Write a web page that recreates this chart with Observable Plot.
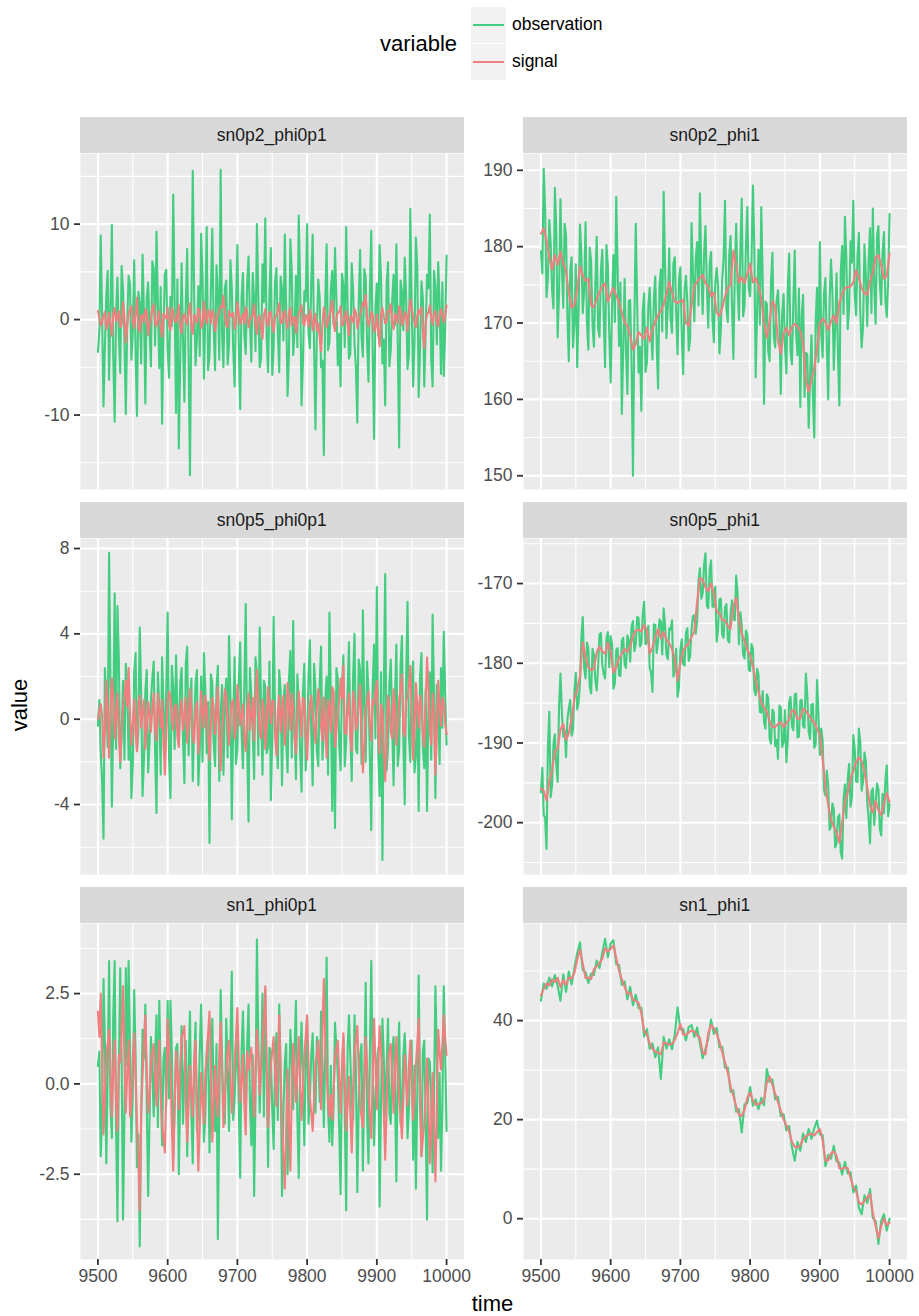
<!DOCTYPE html>
<html><head><meta charset="utf-8">
<script src="https://cdn.jsdelivr.net/npm/d3@7"></script>
<script src="https://cdn.jsdelivr.net/npm/@observablehq/plot@0.6"></script>
<style>
body{margin:0;background:#fff;}
#root{position:relative;width:919px;height:1316px;font-family:"Liberation Sans",Arial,Helvetica,sans-serif;overflow:hidden;background:#fff;}
.abs{position:absolute;}
.strip{position:absolute;background:#D9D9D9;color:#1A1A1A;font-size:17.5px;display:flex;align-items:center;justify-content:center;}
.panel svg{overflow:visible;}
</style></head><body><div id="root"></div>
<script>
// ---------- data ----------
// main samples at t = 9500, 9504, ..., 10000; "_mid" samples at t = 9502, 9506, ..., 9998
const time4 = d3.range(9500, 10001, 4);
const time2 = d3.range(9500, 10001, 2);
const panelNames = ["sn0p2_phi0p1","sn0p2_phi1","sn0p5_phi0p1","sn0p5_phi1","sn1_phi0p1","sn1_phi1"];
const seriesNames = ["observation","signal"];
const seriesColors = ["#43CD80","#F08080"];

const obs_sn0p2_phi0p1 = [-3.4,8.8,-9.1,2.5,-6.3,9.9,-10.7,4.4,-5.6,3.1,
-9.9,4.6,-4.2,6.2,-10.1,1.8,6.8,-8.8,3.9,-4.9,
5.3,9.2,-5.1,-10.9,4.8,-3.2,2.4,13.1,-9.8,-13.5,
5.9,-8.6,7.4,-16.3,15.6,-4.8,3.5,9.0,-6.2,9.7,
-3.8,9.5,-5.3,2.8,15.7,-5.0,4.1,-2.7,3.3,-7.0,
7.8,-9.4,4.9,-3.6,6.6,-4.4,2.1,10.0,-5.0,5.8,
10.6,-5.5,7.5,-2.9,5.4,-5.5,3.2,8.9,-8.0,8.4,
-3.7,4.6,10.9,-9.0,3.0,10.0,-3.0,8.9,-11.5,4.2,
-5.0,-14.2,7.9,-2.4,5.1,7.5,-4.8,-7.0,3.6,9.7,
-4.1,5.9,-2.6,-10.8,7.3,-3.9,4.4,-6.5,9.3,-12.5,
3.8,7.8,-4.6,-9.0,6.0,-3.1,4.7,7.9,-13.4,2.9,
6.5,-5.2,11.6,-7.0,8.6,-8.1,4.0,-7.0,4.7,11.0,
-7.0,3.4,6.0,-5.7,-5.9,6.7];
const obs_sn0p2_phi0p1_mid = [-1.2,0.4,-2.8,5.1,1.3,-3.9,0.7,-1.8,5.6,-2.2,
-0.5,3.7,-1.4,-3.3,2.9,-4.6,0.8,2.2,-1.1,6.1,
-2.7,1.5,3.4,-0.9,5.2,-6.1,-0.7,2.1,4.2,-4.4,
-2.3,1.9,-3.5,1.2,2.6,-1.9,-3.8,4.4,0.6,-5.3,
3.1,-0.8,5.7,-4.2,-1.6,3.3,-4.7,6.2,-3.1,1.4,
-2.6,2.3,-1.7,3.8,-0.3,4.9,-3.3,2.6,-4.1,1.8,
-1.9,2.7,-5.8,3.9,-1.4,4.5,-2.2,1.1,-3.5,5.0,
-1.3,-2.9,3.6,-4.5,1.9,-1.6,4.0,-2.8,-0.9,2.3,
-4.3,1.7,-3.2,3.1,-0.4,2.2,-1.5,4.8,-2.9,1.6,
-3.6,3.0,-5.1,1.4,-1.8,5.3,-2.4,2.9,-3.4,1.2,
-1.7,4.4,-2.1,3.5,-4.9,1.9,-0.6,-2.5,4.1,-1.1,
2.4,-3.7,1.5,-2.3,5.5,-3.0,2.2,-1.4,3.3,-4.2,
5.1,-2.6,1.8,3.9,-1.0];
const sig_sn0p2_phi0p1 = [0.9,-0.6,0.4,-1.0,0.7,-1.7,1.2,0.3,-0.8,1.8,
-2.4,0.6,1.4,-0.9,2.3,-1.3,0.5,1.1,-1.6,0.2,
1.6,-0.7,0.9,-1.8,0.4,1.3,-1.1,0.8,-0.3,1.5,
-1.4,0.6,-0.5,1.7,-1.5,0.2,1.2,-0.9,1.9,-0.4,
0.7,1.0,-1.2,0.5,1.4,2.5,-0.6,0.9,0.3,-1.0,
1.8,-0.5,0.6,1.3,-0.8,0.2,1.6,-1.5,0.4,-2.0,
1.1,-0.7,0.8,-1.3,0.5,1.7,-0.3,0.9,-0.9,1.2,
0.1,-1.4,0.7,1.5,-0.6,0.3,1.0,-1.1,0.6,-0.4,
-3.3,1.3,-0.8,0.4,2.0,-1.2,0.7,1.4,-0.5,0.9,
-1.6,0.2,1.1,-0.9,0.6,1.8,2.6,-0.7,0.8,-1.3,
0.5,-2.8,1.2,-0.4,0.9,1.6,-1.0,0.3,1.4,-0.6,
0.8,-1.2,2.1,0.4,-0.8,1.0,1.3,-3.0,0.6,1.5,
-0.5,0.9,-0.7,1.1,-0.3,1.5];
const sig_sn0p2_phi0p1_mid = [0.2,-0.3,0.8,-0.4,-0.5,0.6,-0.2,0.9,-0.6,0.3,
-0.7,1.0,-0.2,0.5,-0.8,0.4,-0.3,0.7,-0.5,1.1,
-0.4,0.2,-0.9,0.6,0.1,-0.6,1.2,-0.2,0.4,-0.8,
0.3,-0.1,0.9,-0.7,0.5,-0.3,0.8,-0.5,0.2,1.0,
-0.4,0.6,-0.2,0.9,1.3,0.4,-0.8,0.5,0.7,-0.3,
0.6,0.1,-0.4,0.8,-0.1,0.5,-0.6,0.3,-0.9,0.4,
-0.2,0.7,-0.5,0.2,0.9,-0.4,0.6,-0.2,0.8,-0.6,
0.3,-0.1,0.9,-0.3,0.5,-0.7,0.4,-0.2,-1.2,-1.8,
-0.6,0.5,-0.2,1.1,-0.4,0.2,0.8,-0.6,0.3,-0.5,
0.4,-0.3,0.7,-0.2,1.0,1.4,0.2,-0.1,0.5,-0.9,
-1.3,0.6,0.3,-0.2,0.8,-0.3,0.6,-0.4,0.9,-0.2,
0.5,0.9,1.1,-0.3,0.4,0.6,-1.2,-0.6,0.7,0.2,
0.5,-0.1,0.4,0.6,0.3];

const obs_sn0p2_phi1 = [179.4,190.2,173.4,183.5,174.2,187.7,168.1,186.2,172.0,181.5,
165.0,178.6,169.8,164.2,182.9,171.3,183.2,166.5,178.0,166.9,
181.3,168.2,179.6,164.2,177.4,162.2,178.9,186.5,167.0,158.1,
175.8,160.7,173.0,150.0,183.0,163.5,158.5,173.9,164.8,174.6,
165.2,176.1,161.4,177.0,187.2,168.0,179.8,168.7,178.6,165.9,
177.3,163.3,176.2,166.4,183.1,170.2,180.6,187.0,171.2,182.7,
169.4,179.3,167.5,177.2,166.0,175.8,186.0,170.1,181.4,165.3,
183.0,170.4,186.3,172.3,185.2,173.5,188.0,162.9,179.6,185.2,
159.4,172.5,165.0,179.2,166.8,174.3,160.7,173.8,163.4,179.1,
164.6,179.5,165.8,159.0,173.7,166.1,156.3,168.4,155.0,174.6,
180.6,165.5,175.9,160.0,178.3,163.9,176.5,159.2,180.1,183.9,
169.2,180.7,186.0,171.0,181.8,166.8,180.3,169.6,182.4,185.0,
169.9,182.7,172.4,181.9,170.8,184.3];
const obs_sn0p2_phi1_mid = [176.5,184.8,175.9,180.4,171.9,182.3,174.1,177.6,183.0,170.8,
176.9,166.8,177.7,171.5,179.1,174.2,170.0,179.9,169.7,175.1,
169.2,176.8,170.9,180.2,168.6,172.5,170.1,177.1,175.3,166.4,
166.2,172.9,164.7,170.2,172.6,166.9,171.5,163.6,172.2,169.0,
173.4,167.3,174.8,168.9,177.5,172.1,170.5,177.8,171.1,175.8,
168.4,174.3,172.7,167.9,176.6,178.4,172.3,176.9,179.2,174.6,
177.8,170.3,175.1,174.9,169.1,178.5,171.9,178.8,172.4,176.3,
174.7,179.6,170.9,180.1,174.6,178.4,180.0,171.6,169.8,176.0,
172.8,166.3,175.4,168.1,172.9,170.2,171.3,167.0,174.4,166.2,
172.7,168.6,174.5,171.0,160.3,165.9,163.1,160.5,170.2,164.9,
168.5,173.9,167.0,172.8,174.1,169.2,165.8,176.7,171.2,178.5,
172.0,177.9,173.8,178.7,171.4,169.7,176.2,178.2,171.3,174.8,
181.5,175.2,179.3,173.1,175.6];
const sig_sn0p2_phi1 = [181.7,182.4,180.8,178.6,177.0,178.9,177.6,179.3,177.8,176.8,
174.0,172.0,172.4,174.4,177.4,176.2,175.5,175.8,172.3,172.1,
173.2,174.0,174.8,175.2,172.8,173.8,174.6,173.6,172.7,171.4,
170.1,169.6,168.4,166.5,167.3,168.8,168.4,167.9,169.4,167.6,
169.2,170.2,171.0,171.6,172.4,173.8,175.4,174.0,172.8,172.6,
172.9,173.0,170.0,169.6,172.3,174.8,175.4,175.9,176.3,175.2,
174.8,173.5,174.0,171.4,170.9,172.0,173.5,174.6,175.0,179.5,
177.6,175.3,176.0,175.2,176.4,177.8,175.3,175.9,174.9,173.2,
170.0,168.1,170.3,172.9,172.2,167.7,166.0,168.6,169.4,168.4,
169.5,169.9,169.6,168.9,167.3,162.5,161.0,162.6,164.0,166.8,
169.9,170.6,170.1,169.1,170.2,171.0,169.9,172.7,173.8,174.6,
174.7,174.8,175.3,176.9,175.9,174.6,173.9,173.7,175.5,176.6,
178.6,178.9,177.6,175.8,176.2,179.1];

const obs_sn0p5_phi0p1 = [-0.3,-1.5,-5.6,0.8,7.8,-4.1,5.9,5.3,-2.3,1.8,
2.6,-1.9,-3.7,2.2,-1.5,4.3,-3.6,1.3,-2.5,0.9,
2.7,-4.4,0.5,2.9,-2.0,5.0,-3.7,1.5,3.0,-1.2,
2.4,-3.0,3.4,0.6,-2.9,1.7,-3.1,2.0,3.1,-1.6,
-5.8,1.7,-2.2,2.5,0.2,-2.6,1.9,3.9,-4.7,2.9,
-1.4,3.6,-2.3,5.4,-4.8,1.1,-2.8,2.1,4.3,-2.6,
1.5,-1.3,-3.8,4.8,-1.0,2.3,-3.1,1.6,-2.5,3.2,
4.6,-2.8,0.8,-3.4,2.6,-1.0,3.7,-3.1,1.4,-2.2,
3.4,-0.6,2.0,5.0,-4.3,-5.1,1.9,-2.4,3.0,-1.1,
3.6,-2.9,4.0,-1.6,2.3,5.1,-2.0,1.2,-5.2,3.5,
6.2,-3.6,-6.6,6.8,-1.3,2.8,-3.1,3.5,-1.4,3.9,
-4.0,5.5,-2.0,2.7,-1.7,-4.3,3.1,-2.3,-4.3,2.2,
4.9,-3.7,0.5,2.4,4.1,-1.2];
const obs_sn0p5_phi0p1_mid = [0.9,-2.9,2.4,-1.3,1.6,0.2,-1.4,2.8,-0.7,-1.9,
1.5,0.4,-2.1,3.1,-0.6,1.2,-1.9,2.3,-1.1,1.9,
-1.5,2.2,-2.6,0.7,1.3,-1.8,2.5,-1.4,0.3,1.7,
-0.9,2.6,-1.7,1.9,-0.2,2.3,-1.5,-2.0,1.4,0.8,
2.1,-1.1,1.4,-2.9,1.6,0.5,-1.8,1.1,-0.3,-2.1,
1.8,-0.6,1.6,-1.2,2.4,-0.5,2.9,-1.7,0.6,1.8,
-1.6,2.7,-0.9,0.2,-2.3,1.4,0.8,-1.1,1.9,-1.8,
-0.4,2.1,-1.6,1.2,-2.4,2.0,-0.8,2.6,-1.5,1.7,
-1.9,0.9,-2.6,1.1,0.7,2.4,-1.2,1.6,-2.2,1.3,
-0.7,2.0,-1.4,2.8,-2.1,0.4,2.7,-1.8,1.5,-0.9,
-1.6,2.2,1.3,-2.4,1.7,-0.3,0.9,-2.2,2.5,-1.0,
1.8,-0.8,1.6,-2.5,0.9,2.0,-1.3,1.4,0.6,-1.9,
1.1,1.6,-2.1,-0.4,1.2];
const sig_sn0p5_phi0p1 = [0.0,0.7,-1.8,1.8,-1.8,1.9,-0.9,1.2,-2.0,0.6,
1.8,2.4,-1.2,0.9,-1.5,1.1,0.3,-1.4,0.8,-0.6,
1.2,-1.0,0.4,0.9,-2.6,0.8,1.0,-0.5,0.7,-1.3,
0.9,0.2,-1.1,1.4,-0.8,0.5,-1.6,1.3,-0.4,0.6,
-1.9,1.0,-0.7,1.5,-2.4,0.3,1.1,-1.2,0.8,-0.9,
1.6,-0.3,0.7,-1.5,1.2,0.2,-1.0,2.3,-0.6,0.9,
-1.4,1.5,-0.2,0.8,-1.7,1.1,0.4,-1.2,1.7,-0.5,
0.6,-1.6,1.3,-0.8,0.9,-1.9,0.7,0.2,-1.1,1.4,
-0.4,1.0,-1.8,0.6,1.5,-1.3,0.3,1.9,2.5,-0.7,
1.2,-1.5,0.8,-0.2,1.6,-2.5,0.5,1.3,-1.0,0.7,
1.8,-1.6,0.4,-2.9,1.1,-0.6,1.4,-1.2,0.9,2.1,
-0.8,1.0,2.5,-1.9,1.7,-0.4,0.6,-1.3,2.9,-0.5,
1.2,-2.6,1.8,-0.3,0.8,-0.7];
const sig_sn0p5_phi0p1_mid = [0.4,0.2,-0.6,0.3,0.5,1.0,0.2,-0.8,-0.5,1.1,
0.6,0.1,-0.2,-0.6,0.8,-0.4,0.9,-0.3,0.2,0.5,
-0.5,1.2,-0.4,-1.1,-0.7,1.3,0.1,0.6,-0.8,0.4,
-0.5,1.0,-0.2,0.3,-1.1,0.8,-0.6,0.4,1.1,-0.8,
-0.3,0.6,0.2,-1.0,-0.5,1.4,-0.3,0.2,0.9,-0.4,
0.7,0.2,-1.0,0.4,-0.5,1.0,0.8,0.7,-0.9,0.5,
-0.3,0.6,0.9,-0.8,0.3,-0.6,1.1,-0.2,0.6,1.2,
-0.9,0.1,0.4,1.0,-0.7,-0.3,1.1,-0.4,0.5,0.9,
-1.0,-0.3,0.9,-0.6,1.3,-0.5,0.8,1.0,-0.6,0.4,
-0.8,1.3,-0.5,0.7,-0.4,-1.2,0.8,-0.2,0.9,1.3,
-0.6,0.7,-1.4,-0.8,0.6,-0.9,0.6,-0.3,1.4,-0.6,
0.9,1.6,0.4,-0.5,0.6,1.1,-0.7,0.8,1.4,-1.2,
0.3,-0.7,0.6,1.0,-0.2];

const obs_sn0p5_phi1 = [-196.2,-199.0,-203.3,-186.1,-195.3,-188.9,-194.9,-181.3,-189.2,-191.8,
-185.7,-189.1,-183.5,-185.8,-182.4,-174.2,-181.9,-178.1,-183.8,-179.0,
-183.4,-176.4,-180.2,-181.9,-176.1,-176.6,-183.2,-178.3,-181.5,-177.2,
-180.1,-176.5,-179.8,-174.7,-177.6,-174.3,-177.5,-172.3,-177.4,-180.6,
-183.6,-175.2,-177.3,-174.8,-173.1,-178.9,-175.6,-174.6,-180.7,-184.2,
-178.3,-180.1,-176.2,-179.7,-175.8,-174.0,-174.7,-168.1,-171.2,-166.2,
-173.1,-167.1,-172.9,-177.3,-172.0,-176.4,-173.0,-177.1,-173.8,-174.4,
-169.0,-177.6,-175.2,-179.4,-176.5,-181.0,-178.2,-184.0,-181.4,-186.2,
-187.4,-183.9,-189.5,-185.8,-190.4,-192.0,-185.6,-189.9,-192.4,-184.8,
-188.0,-183.9,-189.3,-184.7,-187.9,-181.3,-188.6,-185.2,-190.6,-182.1,
-191.5,-189.7,-196.6,-195.4,-200.5,-198.3,-202.6,-199.0,-204.5,-195.2,
-194.5,-198.0,-189.0,-194.8,-188.2,-196.0,-191.2,-197.4,-202.6,-195.7,
-197.4,-195.8,-201.6,-198.8,-192.8,-197.7];
const obs_sn0p5_phi1_mid = [-193.1,-199.4,-190.6,-196.8,-190.1,-192.8,-185.4,-186.0,-188.4,-187.0,
-184.6,-188.3,-181.2,-184.9,-176.8,-180.6,-177.4,-182.9,-178.2,-182.1,
-180.4,-176.2,-181.3,-176.9,-180.5,-177.6,-182.5,-178.1,-181.6,-176.8,
-180.6,-177.1,-175.4,-178.5,-174.2,-177.9,-173.8,-177.6,-175.3,-181.2,
-175.1,-178.7,-174.5,-178.9,-175.2,-179.5,-175.8,-181.7,-178.2,-183.0,
-177.0,-180.3,-175.6,-179.1,-174.1,-176.3,-169.7,-171.9,-167.6,-172.8,
-168.3,-172.9,-170.4,-175.8,-171.9,-176.8,-172.6,-177.4,-172.1,-174.6,
-171.2,-173.6,-178.9,-175.9,-180.8,-177.6,-183.4,-180.7,-186.1,-183.5,
-188.2,-184.4,-190.1,-186.2,-189.6,-185.3,-190.5,-185.9,-189.7,-184.2,
-188.4,-183.8,-189.2,-184.6,-188.1,-184.0,-189.5,-185.1,-190.2,-186.3,
-188.2,-195.9,-193.5,-200.9,-197.6,-203.1,-199.3,-203.7,-197.1,-199.4,
-192.6,-196.8,-190.7,-194.9,-189.9,-194.8,-192.3,-199.6,-196.1,-200.3,
-195.1,-200.7,-196.4,-194.7,-199.2];
const sig_sn0p5_phi1 = [-195.7,-196.0,-197.2,-194.8,-193.5,-191.0,-190.7,-188.3,-187.6,-189.6,
-188.8,-187.0,-184.4,-183.3,-181.6,-177.4,-179.2,-180.5,-180.9,-180.7,
-178.6,-177.9,-178.5,-178.8,-177.4,-178.6,-181.2,-180.5,-179.4,-178.8,
-178.2,-178.6,-177.9,-176.6,-175.9,-175.8,-176.0,-175.2,-175.9,-178.8,
-178.0,-176.8,-175.7,-176.9,-176.1,-177.0,-177.5,-178.2,-179.5,-182.2,
-180.0,-178.4,-177.9,-177.5,-176.7,-176.0,-172.3,-169.3,-169.5,-170.5,
-171.0,-170.0,-171.2,-173.5,-173.7,-174.6,-174.6,-175.3,-175.7,-172.9,
-171.8,-174.5,-176.3,-177.2,-178.3,-179.0,-180.4,-182.1,-183.6,-184.9,
-185.6,-186.1,-187.3,-188.0,-188.0,-187.6,-187.4,-188.0,-187.5,-187.0,
-185.9,-186.0,-187.0,-186.9,-185.7,-186.0,-186.5,-187.1,-187.4,-188.2,
-189.0,-192.0,-195.5,-197.8,-199.6,-200.5,-201.2,-202.5,-200.0,-197.5,
-196.2,-194.5,-193.5,-192.4,-191.8,-192.3,-193.6,-195.5,-197.9,-198.7,
-197.3,-198.4,-199.0,-197.6,-196.3,-197.4];

const obs_sn1_phi0p1 = [0.5,-2.0,2.9,-2.2,3.4,-1.5,3.4,-3.8,3.2,-3.75,
3.2,3.4,-1.6,2.6,-2.3,-4.5,1.5,2.2,-3.1,1.3,
-0.9,1.9,2.3,-1.7,1.0,2.3,2.3,-2.0,1.0,-2.5,
1.6,0.3,-2.0,2.0,-2.2,1.7,-0.8,2.2,-1.6,0.9,
-1.9,1.8,-1.3,-4.3,2.6,-0.6,1.8,-1.3,3.1,-0.4,
1.2,-2.6,2.0,-0.9,2.2,-1.7,-3.1,4.0,-0.8,2.5,
2.6,-2.3,0.9,-1.8,1.4,2.2,-3.1,0.6,-2.5,1.5,
-0.7,2.3,-2.6,1.7,-1.7,1.8,-0.4,1.4,-0.8,1.0,
2.0,-1.2,3.5,-1.6,-1.7,1.7,0.2,-3.05,1.3,-3.5,
1.9,-0.5,1.9,-3.0,0.8,-2.4,2.8,-2.2,3.4,-1.7,
0.6,-3.4,1.8,-0.9,1.8,-1.1,1.3,-2.7,1.7,-0.6,
1.4,-1.5,0.9,-2.1,-2.9,3.0,-2.0,1.2,-3.75,0.6,
-2.45,2.7,-1.5,-2.4,2.7,-1.3];
const obs_sn1_phi0p1_mid = [0.9,-0.8,1.1,0.3,-0.6,1.9,-1.2,0.4,0.6,-0.9,
0.5,1.0,-0.3,0.8,-1.4,-0.9,0.7,-0.5,-1.0,0.4,
0.8,-1.2,0.3,0.7,-0.6,-0.4,0.9,-0.7,1.1,-0.3,
-1.1,1.2,0.4,-0.8,0.6,-1.3,0.9,0.3,-0.9,1.3,
0.2,-0.4,1.1,-0.8,0.7,-1.1,0.5,1.2,-1.0,0.6,
-0.6,0.9,0.4,1.1,-0.5,0.8,-0.4,1.2,0.5,-0.9,
0.3,1.0,-0.7,0.6,-1.0,0.4,-0.8,1.1,-0.4,0.7,
1.0,-0.9,0.4,0.2,0.6,-1.1,0.8,-0.3,1.3,-0.5,
0.6,0.9,-0.7,0.5,-0.6,1.0,-1.2,0.4,-0.8,0.9,
0.7,-1.0,0.3,-0.6,1.1,0.2,-0.9,0.8,0.4,-0.3,
1.0,-0.5,0.7,0.4,-0.8,0.9,-0.2,0.6,-1.1,0.8,
0.4,-0.7,1.2,0.5,-0.3,-0.6,0.9,-1.0,0.7,-0.5,
-0.4,0.8,0.3,-0.6,0.9];
const sig_sn1_phi0p1 = [2.0,2.5,-1.4,0.9,1.5,-0.9,1.2,-1.3,0.6,2.7,
-0.8,1.2,-0.5,1.4,-1.1,-3.5,0.2,1.9,-0.8,0.6,
1.1,-0.6,1.2,-1.1,-1.9,1.8,0.4,-2.4,0.9,-0.7,
1.3,1.6,-1.6,0.5,-0.9,1.2,-2.4,0.3,-1.1,0.8,
2.0,-1.6,0.5,-0.9,1.7,-1.2,0.3,1.2,-0.8,0.6,
2.1,-0.5,0.8,-1.4,0.4,1.0,-0.9,1.5,-0.3,1.1,
2.7,-1.2,0.5,1.3,-0.6,1.9,-1.1,-2.9,0.4,-2.4,
1.1,-0.5,1.3,-1.0,0.8,1.9,-0.4,-1.3,0.6,1.2,
-0.7,2.9,0.3,-0.9,-1.0,0.7,1.2,-0.8,1.4,-1.3,
0.2,-1.9,0.9,1.6,-0.6,-1.2,1.3,-0.3,-1.5,1.8,
-0.7,1.6,0.4,-2.1,0.6,1.1,-0.8,1.3,-0.4,-1.5,
0.8,-0.6,1.2,-1.0,0.5,1.8,-2.0,-1.1,0.7,-2.2,
0.3,-2.7,1.5,0.4,1.9,0.8];
const sig_sn1_phi0p1_mid = [1.3,0.6,-0.4,1.1,0.2,0.4,-0.5,0.8,1.5,0.7,
0.3,-0.9,0.7,0.2,-2.0,-0.8,1.1,0.4,-0.3,0.9,
0.1,0.5,-0.3,-1.5,-0.2,1.0,-1.2,-0.6,0.3,0.5,
1.4,-0.4,-0.6,-0.2,0.6,-0.8,-1.2,-0.5,0.3,1.4,
0.5,-0.6,-0.3,0.8,0.3,-0.4,0.9,0.2,-0.1,1.3,
0.6,0.1,-0.6,0.9,0.7,0.1,0.4,0.7,0.4,1.8,
0.5,-0.4,0.9,0.3,0.6,0.2,-2.0,-1.3,-1.1,-0.2,
0.4,0.3,0.1,-0.2,1.3,0.6,-0.8,-0.4,0.8,0.3,
1.5,1.2,-0.5,-0.3,-0.2,1.0,0.2,0.4,0.1,-0.6,
-0.8,-0.5,1.2,0.4,-0.9,0.1,0.5,-0.9,0.2,0.6,
0.5,0.9,-0.8,-0.7,0.9,0.2,0.3,0.4,-0.9,-0.4,
0.1,0.5,0.1,-0.3,1.1,0.0,-1.5,-0.3,-0.6,-1.1,
-1.2,-0.6,0.9,1.1,1.3];

const obs_sn1_phi1 = [44.0,47.5,46.4,48.7,46.9,49.2,47.0,44.0,49.3,45.8,
49.9,47.3,50.6,53.6,55.8,50.2,49.8,47.6,49.5,49.2,
52.1,50.6,53.7,56.5,52.8,55.6,56.2,51.4,51.2,47.2,
47.9,44.3,46.8,43.1,45.2,42.5,42.6,36.8,38.3,34.3,
35.4,32.6,34.6,28.2,36.7,34.3,36.2,34.2,37.2,42.7,
38.2,38.3,36.0,38.7,39.1,36.7,38.6,35.4,32.4,34.3,
36.4,40.2,37.3,38.5,34.6,34.7,30.5,30.5,25.6,25.9,
21.6,22.1,17.4,23.1,23.3,26.6,22.8,24.1,22.1,24.4,
22.9,30.2,27.6,28.1,24.1,24.6,20.7,21.1,17.8,18.7,
14.4,11.7,15.5,13.7,17.2,15.5,18.1,16.1,18.3,19.8,
17.0,16.9,10.6,12.9,12.1,14.7,11.6,11.3,8.9,11.5,
9.1,9.4,5.3,6.7,2.2,0.9,4.7,3.2,6.0,0.1,
-0.4,-5.1,-0.4,0.9,-2.4,0.0];
const sig_sn1_phi1 = [45.1,46.4,47.5,47.1,48.3,47.8,48.6,46.8,48.2,47.2,
48.7,48.5,49.6,52.3,54.3,51.5,48.6,48.7,48.4,50.4,
51.0,51.6,52.5,54.6,53.9,54.5,55.2,52.6,50.1,48.3,
46.8,45.4,45.7,44.2,44.0,43.6,41.5,37.9,37.2,35.4,
34.3,33.7,33.5,33.2,35.6,35.4,35.1,35.3,36.1,37.5,
39.3,37.2,37.1,37.6,38.0,37.8,37.0,36.5,33.5,33.2,
37.5,39.1,38.4,37.4,35.7,33.6,31.6,29.4,26.7,24.8,
22.7,21.0,20.7,22.0,24.4,25.5,23.9,23.0,23.2,23.3,
24.0,27.5,28.7,27.0,25.2,23.5,21.8,20.0,18.9,17.6,
15.5,14.5,14.4,14.8,16.1,16.6,17.0,17.2,16.8,17.5,
18.1,15.8,11.7,11.8,13.2,13.6,12.7,10.2,10.0,10.4,
10.2,8.3,6.4,5.6,3.3,2.9,3.6,4.3,5.0,1.2,
-1.5,-3.9,-1.5,0.0,-1.3,-0.8];

// ---------- ticks ----------
const xMajor = [9500, 9600, 9700, 9800, 9900, 10000];
const xLabels = ["9500", "9600", "9700", "9800", "9900", "10000"];
const xMinor = [9550, 9650, 9750, 9850, 9950];
const xDomain = [9475, 10025];

const yDomains = [[-17.8, 17.4], [148.2, 192.2], [-7.28, 8.47], [-206.5, -164.35], [-4.86, 4.44], [-8.24, 59.6]];
const yMajors = [[-10, 0, 10], [150, 160, 170, 180, 190], [-4, 0, 4, 8], [-200, -190, -180, -170], [-2.5, 0, 2.5], [0, 20, 40]];
const yLabels = [["-10", "0", "10"], ["150", "160", "170", "180", "190"], ["-4", "0", "4", "8"], ["-200", "-190", "-180", "-170"], ["-2.5", "0.0", "2.5"], ["0", "20", "40"]];
const yMinors = [[-15, -5, 5, 15], [155, 165, 175, 185], [-6, -2, 2, 6], [-205, -195, -185, -175, -165], [-3.75, -1.25, 1.25, 3.75], [10, 30, 50]];

const obsList = [obs_sn0p2_phi0p1, obs_sn0p2_phi1, obs_sn0p5_phi0p1, obs_sn0p5_phi1, obs_sn1_phi0p1, obs_sn1_phi1];
const obsMidList = [obs_sn0p2_phi0p1_mid, obs_sn0p2_phi1_mid, obs_sn0p5_phi0p1_mid, obs_sn0p5_phi1_mid, obs_sn1_phi0p1_mid, null];
const sigList = [sig_sn0p2_phi0p1, sig_sn0p2_phi1, sig_sn0p5_phi0p1, sig_sn0p5_phi1, sig_sn1_phi0p1, sig_sn1_phi1];
const sigMidList = [sig_sn0p2_phi0p1_mid, null, sig_sn0p5_phi0p1_mid, null, sig_sn1_phi0p1_mid, null];

// merge the two sample sets in time order
function toRows(main, mid, name) {
  if (!mid) return main.map((v, i) => ({t: time4[i], v, s: name}));
  const rows = [];
  main.forEach((v, i) => {
    rows.push({t: time4[i], v, s: name});
    if (i < mid.length) rows.push({t: time2[2 * i + 1], v: mid[i], s: name});
  });
  return rows;
}

// ---------- layout ----------
const root = document.getElementById("root");
const colLeft = [80, 523];
const colMargin = [80, 60];
const plotW = 383.5;
const rowTop = [153, 538, 923];
const plotH = 336;
const stripH = 36;
const FONT = '"Liberation Sans", Arial, Helvetica, sans-serif';

function el(tag, cls, css, text) {
  const e = document.createElement(tag);
  if (cls) e.className = cls;
  Object.assign(e.style, css);
  if (text != null) e.textContent = text;
  root.appendChild(e);
  return e;
}

panelNames.forEach((name, k) => {
  const r = Math.floor(k / 2), c = k % 2;
  const showX = r === 2;
  const ml = colMargin[c];
  const obsData = toRows(obsList[k], obsMidList[k], seriesNames[0]);
  const sigData = toRows(sigList[k], sigMidList[k], seriesNames[1]);
  const yMap = new Map(yMajors[k].map((v, i) => [v, yLabels[k][i]]));
  const xMap = new Map(xMajor.map((v, i) => [v, xLabels[i]]));
  const mb = showX ? 40 : 0;
  const chart = Plot.plot({
    width: ml + plotW,
    height: plotH + mb,
    marginLeft: ml, marginRight: 0, marginTop: 0, marginBottom: mb,
    style: {background: "transparent", fontSize: "17.5px", fontFamily: FONT, overflow: "visible"},
    x: {domain: xDomain, ...(showX ? {} : {axis: null})},
    y: {domain: yDomains[k]},
    marks: [
      Plot.frame({fill: "#EBEBEB", stroke: "none"}),
      Plot.ruleY(yMinors[k], {stroke: "#FFFFFF", strokeWidth: 1.1}),
      Plot.ruleX(xMinor, {stroke: "#FFFFFF", strokeWidth: 1.1}),
      Plot.ruleY(yMajors[k], {stroke: "#FFFFFF", strokeWidth: 2.1}),
      Plot.ruleX(xMajor, {stroke: "#FFFFFF", strokeWidth: 2.1}),
      Plot.line(obsData, {x: "t", y: "v", stroke: seriesColors[0], strokeWidth: 2.1}),
      Plot.line(sigData, {x: "t", y: "v", stroke: seriesColors[1], strokeWidth: 2.1}),
      Plot.axisY(yMajors[k], {tickSize: 6, tickPadding: 5, tickFormat: d => yMap.get(d), stroke: "#333333", fill: "#4D4D4D", strokeWidth: 1.8, label: null}),
      showX ? Plot.axisX(xMajor, {tickSize: 6, tickPadding: 4, tickFormat: d => xMap.get(d), stroke: "#333333", fill: "#4D4D4D", strokeWidth: 1.8, label: null}) : null
    ]
  });
  const wrap = el("div", "abs panel", {left: (colLeft[c] - ml) + "px", top: rowTop[r] + "px"});
  wrap.appendChild(chart);
  el("div", "strip", {left: colLeft[c] + "px", top: (rowTop[r] - stripH) + "px", width: plotW + "px", height: stripH + "px"}, name);
});

// axis titles
el("div", "abs", {left: "19.5px", top: "705px", transform: "translate(-50%,-50%) rotate(-90deg)", fontSize: "22px", color: "#000", lineHeight: "1", whiteSpace: "nowrap"}, "value");
el("div", "abs", {left: "492.5px", top: "1304px", transform: "translate(-50%,-50%)", fontSize: "22px", color: "#000", lineHeight: "1"}, "time");

// legend
el("div", "abs", {left: "380px", top: "44px", transform: "translateY(-50%)", fontSize: "22px", color: "#000", lineHeight: "1"}, "variable");
const keyTops = [7, 44];
seriesNames.forEach((n, i) => {
  el("div", "abs", {left: "471px", top: keyTops[i] + "px", width: "35px", height: "35.5px", background: "#F2F2F2"});
  el("div", "abs", {left: "473px", top: (keyTops[i] + 16.5) + "px", width: "30.5px", height: "2.7px", background: seriesColors[i]});
  el("div", "abs", {left: "512px", top: (keyTops[i] + 18) + "px", transform: "translateY(-50%)", fontSize: "17.5px", color: "#000", lineHeight: "1"}, n);
});
</script></body></html>
